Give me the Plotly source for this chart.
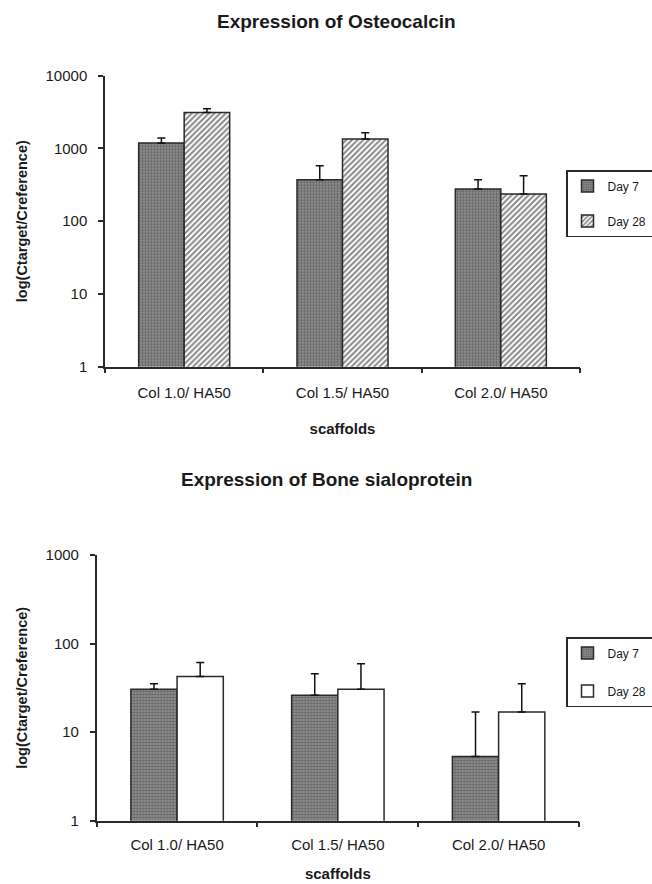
import plotly.graph_objects as go
from plotly.subplots import make_subplots

# ---------------- data ----------------
categories = ["Col 1.0/ HA50", "Col 1.5/ HA50", "Col 2.0/ HA50"]

oc_day7 = [1190, 372, 277]
oc_day7_err = [200, 207, 95]
oc_day28 = [3130, 1349, 237]
oc_day28_err = [390, 300, 185]

bsp_day7 = [30.5, 26.1, 5.3]
bsp_day7_err = [4.6, 19.4, 11.6]
bsp_day28 = [42.4, 30.5, 16.9]
bsp_day28_err = [18.6, 28.5, 18.2]

oc_ticks = [1, 10, 100, 1000, 10000]
bsp_ticks = [1, 10, 100, 1000]

title_top = "Expression of Osteocalcin"
title_bottom = "Expression of Bone sialoprotein"
y_title = "log(Ctarget/Creference)"
x_title = "scaffolds"
series_names = ["Day 7", "Day 28"]

# ---------------- styles ----------------
W, H = 652, 884
FONT = "Liberation Sans, Arial, sans-serif"
TXT = "#1a1a1a"
LINE = "#2a2a2a"

pat_day7 = dict(shape=".", fgcolor="#333333", bgcolor="#959595", size=3, solidity=0.5)
pat_hatch = dict(shape="/", fgcolor="#111111", bgcolor="white", size=4, solidity=0.5)


def err(vals):
    return dict(type="data", symmetric=False, array=vals, arrayminus=[0] * len(vals),
                color="#111111", thickness=1.5, width=4)


fig = make_subplots(rows=2, cols=1)

fig.add_trace(go.Bar(x=categories, y=oc_day7, name=series_names[0], error_y=err(oc_day7_err),
                     marker=dict(color="#959595", pattern=pat_day7, line=dict(color=LINE, width=1.5)),
                     legend="legend", legendgroup="a1"), row=1, col=1)
fig.add_trace(go.Bar(x=categories, y=oc_day28, name=series_names[1], error_y=err(oc_day28_err),
                     marker=dict(color="white", pattern=pat_hatch, line=dict(color=LINE, width=1.5)),
                     legend="legend", legendgroup="a2"), row=1, col=1)

fig.add_trace(go.Bar(x=categories, y=bsp_day7, name=series_names[0], error_y=err(bsp_day7_err),
                     marker=dict(color="#959595", pattern=pat_day7, line=dict(color=LINE, width=1.5)),
                     legend="legend2", legendgroup="b1"), row=2, col=1)
fig.add_trace(go.Bar(x=categories, y=bsp_day28, name=series_names[1], error_y=err(bsp_day28_err),
                     marker=dict(color="white", line=dict(color=LINE, width=1.5)),
                     legend="legend2", legendgroup="b2"), row=2, col=1)


def px_x(p):
    return p / W


def px_y(p):
    return 1 - p / H


xcommon = dict(type="category", showline=True, linecolor=LINE, linewidth=1.5,
               ticks="outside", tickson="boundaries", ticklen=5, tickwidth=1.5, tickcolor=LINE,
               showgrid=False, zeroline=False,
               tickfont=dict(family=FONT, size=15, color=TXT),
               title=dict(text=x_title, font=dict(family=FONT, size=15, color=TXT, weight="bold")))
ycommon = dict(type="log", showline=True, linecolor=LINE, linewidth=1.5,
               ticks="outside", ticklen=5, tickwidth=1.5, tickcolor=LINE,
               showgrid=False, zeroline=False,
               tickfont=dict(family=FONT, size=15, color=TXT), ticklabelstandoff=8,
               title=dict(text=y_title, font=dict(family=FONT, size=14.5, color=TXT, weight="bold"),
                          standoff=14))

fig.update_xaxes(**xcommon)
fig.update_yaxes(**ycommon)

fig.update_layout(
    xaxis=dict(domain=[px_x(105), px_x(580)], ticklabelstandoff=12,
               title=dict(standoff=23)),
    yaxis=dict(domain=[px_y(366.7), px_y(75.7)], range=[0, 4],
               tickvals=oc_ticks, ticktext=[str(v) for v in oc_ticks]),
    xaxis2=dict(domain=[px_x(96.7), px_x(579)], ticklabelstandoff=10,
                title=dict(standoff=16)),
    yaxis2=dict(domain=[px_y(820.7), px_y(555)], range=[0, 3],
                tickvals=bsp_ticks, ticktext=[str(v) for v in bsp_ticks]),
)

fig.update_layout(
    width=W, height=H,
    margin=dict(l=0, r=0, t=0, b=0, autoexpand=False),
    paper_bgcolor="white", plot_bgcolor="white",
    barmode="group", bargap=0.425, bargroupgap=0,
    font=dict(family=FONT, color=TXT),
    legend=dict(x=px_x(566), y=px_y(170), xanchor="left", yanchor="top",
                bgcolor="white", bordercolor=LINE, borderwidth=1.5,
                font=dict(family=FONT, size=12, color=TXT), tracegroupgap=16,
                traceorder="grouped"),
    legend2=dict(x=px_x(566), y=px_y(637), xanchor="left", yanchor="top",
                 bgcolor="white", bordercolor=LINE, borderwidth=1.5,
                 font=dict(family=FONT, size=12, color=TXT), tracegroupgap=19,
                 traceorder="grouped"),
    annotations=[
        dict(text=title_top, x=px_x(336), y=px_y(21.6), xref="paper", yref="paper",
             xanchor="center", yanchor="middle", showarrow=False,
             font=dict(family=FONT, size=19, color=TXT, weight="bold")),
        dict(text=title_bottom, x=px_x(326.5), y=px_y(479.5), xref="paper", yref="paper",
             xanchor="center", yanchor="middle", showarrow=False,
             font=dict(family=FONT, size=19, color=TXT, weight="bold")),
    ],
)

fig.write_html("out.html")
